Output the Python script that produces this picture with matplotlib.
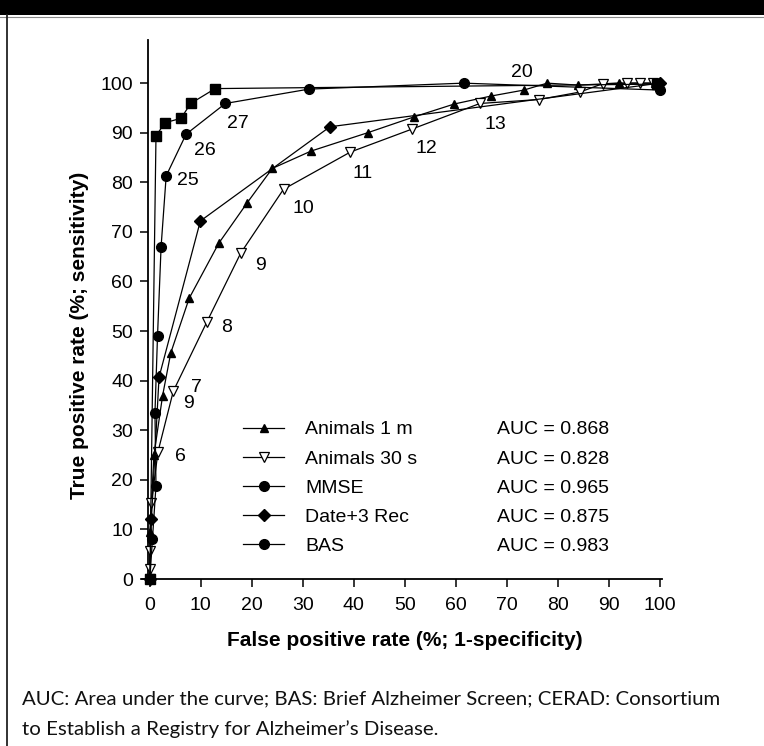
import matplotlib
matplotlib.use('Agg')
import matplotlib.pyplot as plt
from matplotlib.lines import Line2D
from matplotlib.patches import Rectangle

# ---------------- data ----------------
animals1_x = [0, 0, 0.8, 2.5, 4.1, 7.7, 13.5, 19.1, 24.0, 31.6, 42.7, 51.8, 59.7, 66.9, 73.3, 77.9, 84.0, 91.9, 99.0]
animals1_y = [0, 9.5, 25.0, 37.0, 45.6, 56.6, 67.7, 75.9, 82.8, 86.3, 90.0, 93.2, 95.8, 97.4, 98.6, 100, 99.6, 100, 100]

animals30_x = [0, 0, 0, 0.3, 1.6, 4.6, 11.2, 17.8, 26.2, 39.3, 51.3, 64.7, 76.3, 84.3, 88.8, 93.5, 96.1, 98.7]
animals30_y = [0, 2.0, 5.7, 15.4, 25.7, 37.9, 51.9, 65.7, 78.6, 86.1, 90.7, 95.9, 96.7, 98.2, 99.9, 100, 100, 100]

mmse_x = [0, 0.5, 1.2, 1.0, 1.5, 2.2, 3.2, 7.1, 14.8, 31.2, 61.5, 100]
mmse_y = [0, 8.0, 18.8, 33.5, 49.0, 67.0, 81.3, 89.7, 95.9, 98.8, 100, 98.6]

date3_x = [0, 0.3, 1.8, 9.9, 35.3, 100]
date3_y = [0, 12.0, 40.7, 72.2, 91.2, 100]

bas_x = [0, 1.2, 2.9, 6.1, 8.0, 12.8, 99.5]
bas_y = [0, 89.3, 92.0, 92.9, 95.9, 98.9, 99.8]

series_names = ["Animals 1 m", "Animals 30 s", "MMSE", "Date+3 Rec", "BAS"]
auc_labels = ["AUC = 0.868", "AUC = 0.828", "AUC = 0.965", "AUC = 0.875", "AUC = 0.983"]

cutoff_labels = ["25", "26", "27", "20", "13", "12", "11", "10", "9", "8", "7", "9", "6"]
cutoff_x = [7.5, 10.8, 17.3, 72.9, 67.8, 54.3, 41.7, 30.1, 21.6, 15.0, 9.2, 7.5, 5.9]
cutoff_y = [80.4, 86.5, 91.9, 102.1, 91.7, 86.8, 81.8, 74.7, 63.3, 50.7, 38.6, 35.3, 24.7]

x_ticks = list(range(0, 101, 10))
y_ticks = list(range(0, 101, 10))

x_label = "False positive rate (%; 1-specificity)"
y_label = "True positive rate (%; sensitivity)"
caption_lines = ["AUC: Area under the curve; BAS: Brief Alzheimer Screen; CERAD: Consortium",
                 "to Establish a Registry for Alzheimer\u2019s Disease."]

# ---------------- figure ----------------
W, H = 764, 746
plt.rcParams['font.family'] = ['Liberation Sans', 'DejaVu Sans']
fig = plt.figure(figsize=(W / 100, H / 100), dpi=100)
fig.patch.set_facecolor('white')

# frame decorations: black band on top, thin left rule
fig.patches.append(Rectangle((0, 1 - 15 / H), 1, 15 / H, transform=fig.transFigure,
                             facecolor='black', edgecolor='none'))
fig.add_artist(Line2D([0, 1], [1 - 17 / H, 1 - 17 / H], transform=fig.transFigure,
                      color='#888888', lw=0.8))
fig.add_artist(Line2D([7 / W, 7 / W], [0, 1 - 15 / H], transform=fig.transFigure,
                      color='#222222', lw=1.3))

ax = fig.add_axes([141.7 / W, 1 - 579 / H, (661.5 - 141.7) / W, (579 - 40) / H])
ax.set_xlim(-1.6, 100.3)
ax.set_ylim(0, 108.7)
for s in ['top', 'right']:
    ax.spines[s].set_visible(False)
ax.spines['left'].set_position(('data', -0.3))
for s in ['left', 'bottom']:
    ax.spines[s].set_linewidth(1.3)
ax.set_xticks(x_ticks)
ax.set_yticks(y_ticks)
ax.tick_params(axis='both', direction='out', length=6, width=1.1, labelsize=14)
ax.tick_params(axis='x', pad=7)
ax.tick_params(axis='y', pad=5)

lw = 0.9
ax.plot(animals1_x, animals1_y, color='black', lw=lw, marker='^', ms=5.5,
        mfc='black', mec='black', clip_on=False, zorder=3)
ax.plot(animals30_x, animals30_y, color='black', lw=lw, marker='v', ms=6.5,
        mfc='white', mec='black', mew=0.9, clip_on=False, zorder=3)
ax.plot(date3_x, date3_y, color='black', lw=lw, marker='D', ms=6.5,
        mfc='black', mec='black', clip_on=False, zorder=3)
ax.plot(bas_x, bas_y, color='black', lw=lw, marker='s', ms=6.5,
        mfc='black', mec='black', clip_on=False, zorder=3)
ax.plot(mmse_x, mmse_y, color='black', lw=lw, marker='o', ms=7,
        mfc='black', mec='black', clip_on=False, zorder=3)

for t, x, y in zip(cutoff_labels, cutoff_x, cutoff_y):
    ax.text(x, y, t, fontsize=14, ha='center', va='center', color='black')

# legend
handles = [
    Line2D([], [], color='black', lw=lw, marker='^', ms=5.5, mfc='black', mec='black'),
    Line2D([], [], color='black', lw=lw, marker='v', ms=6.5, mfc='white', mec='black', mew=0.9),
    Line2D([], [], color='black', lw=lw, marker='o', ms=7, mfc='black', mec='black'),
    Line2D([], [], color='black', lw=lw, marker='D', ms=6.5, mfc='black', mec='black'),
    Line2D([], [], color='black', lw=lw, marker='o', ms=7, mfc='black', mec='black'),
]
leg_top = 31.9
leg1 = ax.legend(handles, series_names, loc='upper left', bbox_to_anchor=(18.3, leg_top),
                 bbox_transform=ax.transData, frameon=False, fontsize=14,
                 handlelength=2.1, handletextpad=1.1, labelspacing=0.59,
                 borderpad=0, borderaxespad=0)
ax.add_artist(leg1)
blank = [Line2D([], [], color='none') for _ in auc_labels]
ax.legend(blank, auc_labels, loc='upper left', bbox_to_anchor=(68.0, leg_top),
          bbox_transform=ax.transData, frameon=False, fontsize=14,
          handlelength=0, handletextpad=0, labelspacing=0.59,
          borderpad=0, borderaxespad=0)

# axis labels
fig.text(405 / W, 1 - 640 / H, x_label, fontsize=15, fontweight='bold',
         ha='center', va='center')
fig.text(80 / W, 1 - 335 / H, y_label, fontsize=15, fontweight='bold',
         ha='center', va='center', rotation=90)

# caption, sized so that the first line spans the same width as in the reference
cap_family = ['Lato', 'Liberation Sans']
c1 = fig.text(22 / W, 1 - 699 / H, caption_lines[0], fontsize=15,
              family=cap_family, ha='left', va='center', color='#111111')
c2 = fig.text(22 / W, 1 - 729 / H, caption_lines[1], fontsize=15,
              family=cap_family, ha='left', va='center', color='#111111')
fig.canvas.draw()
w = c1.get_window_extent(renderer=fig.canvas.get_renderer()).width
fs = 15 * 699.0 / w
c1.set_fontsize(fs)
c2.set_fontsize(fs)

fig.savefig('out.png', dpi=100, facecolor='white')
